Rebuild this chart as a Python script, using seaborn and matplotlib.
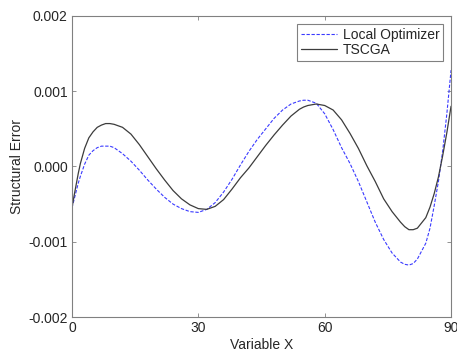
import matplotlib
matplotlib.use("Agg")
import matplotlib.pyplot as plt
import seaborn as sns
import pandas as pd

x_vals = [0, 0.5, 1, 1.5, 2, 3, 4, 5, 6, 7, 8, 9, 10, 12, 14, 16, 18, 20, 22, 24, 26, 28,
          30, 32, 34, 36, 38, 40, 42, 44, 46, 48, 50, 52, 54, 55, 56, 58, 60, 62,
          64, 66, 68, 70, 72, 74, 76, 78, 79, 80, 81, 82, 84, 85, 86, 87, 88, 89, 90]

tscga = [-0.00055, -0.00039, -0.00024, -0.00009, 0.00004, 0.00024, 0.00038, 0.00046,
         0.00052, 0.00055, 0.00057, 0.00057, 0.00056, 0.00052, 0.00043, 0.00029,
         0.00013, -0.00003, -0.00018, -0.00032, -0.00043, -0.00051, -0.00056,
         -0.00057, -0.00053, -0.00044, -0.00030, -0.00015, -0.00002, 0.00013,
         0.00028, 0.00042, 0.00055, 0.00067, 0.00076, 0.00079, 0.00081, 0.00083,
         0.00081, 0.00075, 0.00062, 0.00044, 0.00024, 0.00001, -0.00020, -0.00043,
         -0.00060, -0.00074, -0.00080, -0.00084, -0.00084, -0.00082, -0.00068,
         -0.00054, -0.00036, -0.00014, 0.00014, 0.00045, 0.00080]

local_opt = [-0.00055, -0.00044, -0.00033, -0.00022, -0.00013, 0.00003, 0.00015,
             0.00021, 0.00025, 0.00027, 0.00027, 0.00027, 0.00025, 0.00017, 0.00007,
             -0.00005, -0.00018, -0.00030, -0.00041, -0.00050, -0.00056, -0.00060,
             -0.00061, -0.00057, -0.00048, -0.00034, -0.00017, 0.00002, 0.00020,
             0.00036, 0.00050, 0.00064, 0.00075, 0.00083, 0.00087, 0.00088, 0.00088,
             0.00084, 0.00070, 0.00049, 0.00025, 0.00004, -0.00020, -0.00047,
             -0.00074, -0.00097, -0.00115, -0.00127, -0.00130, -0.00131, -0.00129,
             -0.00123, -0.00102, -0.00082, -0.00052, -0.00020, 0.00020, 0.00070,
             0.00128]

x_ticks = [0, 30, 60, 90]
y_ticks = [-0.002, -0.001, 0.0, 0.001, 0.002]
y_tick_labels = ["-0.002", "-0.001", "0.000", "0.001", "0.002"]

sns.set_style("white")
plt.rcParams["font.family"] = ["Liberation Sans", "DejaVu Sans"]

fig = plt.figure(figsize=(4.57, 3.54), dpi=100)
ax = fig.add_axes([0.1575, 0.1045, 0.8295, 0.8505])

df = pd.DataFrame({"x": x_vals, "Local Optimizer": local_opt, "TSCGA": tscga})

sns.lineplot(data=df, x="x", y="Local Optimizer", ax=ax, color="#3a3aff",
             linestyle=(0, (3, 1.5)), linewidth=0.8, label="Local Optimizer")
sns.lineplot(data=df, x="x", y="TSCGA", ax=ax, color="#3c3c3c",
             linewidth=0.9, label="TSCGA")

ax.set_xlim(0, 90)
ax.set_ylim(-0.002, 0.002)
ax.set_xticks(x_ticks)
ax.set_xticklabels([str(t) for t in x_ticks])
ax.set_yticks(y_ticks)
ax.set_yticklabels(y_tick_labels)
ax.set_xlabel("Variable X", fontsize=10, color="#262626", labelpad=2)
ax.set_ylabel("Structural Error", fontsize=10, color="#262626", labelpad=3)

ax.tick_params(axis="both", direction="in", length=3, width=0.6, color="#808080",
               labelsize=10, labelcolor="#262626", top=True, right=True, pad=3,
               bottom=True, left=True)
for sp in ax.spines.values():
    sp.set_color("#808080")
    sp.set_linewidth(0.8)

leg = ax.legend(loc="upper right", fontsize=10, frameon=True, fancybox=False,
                framealpha=1, edgecolor="#808080", handlelength=2.6,
                borderaxespad=0.55, borderpad=0.3, labelspacing=0.1,
                handletextpad=0.4)
leg.get_frame().set_linewidth(0.8)

fig.savefig("out.png", dpi=100)
